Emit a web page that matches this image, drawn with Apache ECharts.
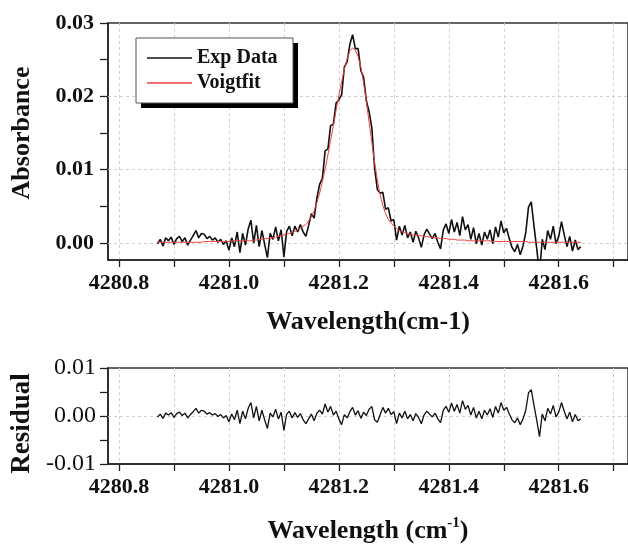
<!DOCTYPE html>
<html>
<head>
<meta charset="utf-8">
<script src="https://cdn.jsdelivr.net/npm/echarts@6/dist/echarts.min.js"></script>
<style>
  html, body { margin: 0; padding: 0; background: #fff; }
  #chart { width: 628px; height: 545px; }
</style>
</head>
<body>
<div id="chart"></div>
<script>
// wavenumber samples (cm-1)
const wavenumbers = [
  4280.870, 4280.875, 4280.880, 4280.885, 4280.890, 4280.895, 4280.900, 4280.905, 4280.910, 4280.915,
  4280.920, 4280.925, 4280.930, 4280.935, 4280.940, 4280.945, 4280.950, 4280.955, 4280.960, 4280.965,
  4280.970, 4280.975, 4280.980, 4280.985, 4280.990, 4280.995, 4281.000, 4281.005, 4281.010, 4281.015,
  4281.020, 4281.025, 4281.030, 4281.035, 4281.040, 4281.045, 4281.050, 4281.055, 4281.060, 4281.065,
  4281.070, 4281.075, 4281.080, 4281.085, 4281.090, 4281.095, 4281.100, 4281.105, 4281.110, 4281.115,
  4281.120, 4281.125, 4281.130, 4281.135, 4281.140, 4281.145, 4281.150, 4281.155, 4281.160, 4281.165,
  4281.170, 4281.175, 4281.180, 4281.185, 4281.190, 4281.195, 4281.200, 4281.205, 4281.210, 4281.215,
  4281.220, 4281.225, 4281.230, 4281.235, 4281.240, 4281.245, 4281.250, 4281.255, 4281.260, 4281.265,
  4281.270, 4281.275, 4281.280, 4281.285, 4281.290, 4281.295, 4281.300, 4281.305, 4281.310, 4281.315,
  4281.320, 4281.325, 4281.330, 4281.335, 4281.340, 4281.345, 4281.350, 4281.355, 4281.360, 4281.365,
  4281.370, 4281.375, 4281.380, 4281.385, 4281.390, 4281.395, 4281.400, 4281.405, 4281.410, 4281.415,
  4281.420, 4281.425, 4281.430, 4281.435, 4281.440, 4281.445, 4281.450, 4281.455, 4281.460, 4281.465,
  4281.470, 4281.475, 4281.480, 4281.485, 4281.490, 4281.495, 4281.500, 4281.505, 4281.510, 4281.515,
  4281.520, 4281.525, 4281.530, 4281.535, 4281.540, 4281.545, 4281.550, 4281.555, 4281.560, 4281.565,
  4281.570, 4281.575, 4281.580, 4281.585, 4281.590, 4281.595, 4281.600, 4281.605, 4281.610, 4281.615,
  4281.620, 4281.625, 4281.630, 4281.635, 4281.640
];

const expData = [
  -0.0001, 0.0005, -0.0004, 0.0007, 0.0003, 0.0008, -0.0002, 0.0006, 0.0009, 0.0002,
  0.0007, -0.0003, 0.0004, 0.0010, 0.0017, 0.0007, 0.0013, 0.0012, 0.0006, 0.0009,
  0.0004, 0.0007, 0.0001, 0.0005, -0.0002, 0.0003, -0.0010, 0.0007, -0.0005, 0.0015,
  -0.0013, 0.0013, -0.0003, 0.0019, 0.0031, 0.0000, 0.0024, -0.0005, 0.0017, -0.0002,
  -0.0020, 0.0013, 0.0005, 0.0022, 0.0003, 0.0018, -0.0019, 0.0016, 0.0023, 0.0010,
  0.0023, 0.0015, 0.0025, 0.0015, 0.0009, 0.0024, 0.0040, 0.0034, 0.0061, 0.0080,
  0.0088, 0.0126, 0.0128, 0.0160, 0.0162, 0.0191, 0.0195, 0.0202, 0.0240, 0.0247,
  0.0271, 0.0284, 0.0265, 0.0265, 0.0235, 0.0226, 0.0194, 0.0179, 0.0157, 0.0102,
  0.0073, 0.0068, 0.0069, 0.0046, 0.0048, 0.0030, 0.0032, 0.0004, 0.0023, 0.0011,
  0.0024, 0.0007, 0.0015, 0.0001, 0.0016, 0.0007, -0.0006, 0.0011, 0.0019, 0.0012,
  0.0006, 0.0013, 0.0001, -0.0008, 0.0018, 0.0026, 0.0013, 0.0032, 0.0015, 0.0028,
  0.0010, 0.0036, 0.0018, 0.0025, 0.0005, 0.0021, -0.0001, 0.0013, -0.0003, 0.0015,
  0.0005, 0.0018, -0.0001, 0.0022, 0.0008, 0.0030, 0.0014, 0.0020, 0.0006, -0.0006,
  -0.0012, -0.0002, -0.0016, -0.0004, 0.0014, 0.0049, 0.0056, 0.0023, -0.0008, -0.0042,
  0.0005, -0.0009, 0.0017, 0.0005, 0.0023, -0.0001, 0.0009, 0.0029, 0.0011, -0.0005,
  0.0009, -0.0011, 0.0004, -0.0009, -0.0005
];

const voigtFit = [
  0.0001, 0.0001, 0.0001, 0.0001, 0.0001, 0.0001, 0.0001, 0.0001, 0.0001, 0.0001,
  0.0001, 0.0001, 0.0001, 0.0001, 0.0001, 0.0001, 0.0001, 0.0002, 0.0002, 0.0002,
  0.0002, 0.0002, 0.0002, 0.0002, 0.0002, 0.0002, 0.0002, 0.0003, 0.0003, 0.0003,
  0.0003, 0.0003, 0.0003, 0.0003, 0.0003, 0.0004, 0.0004, 0.0005, 0.0005, 0.0006,
  0.0006, 0.0007, 0.0007, 0.0008, 0.0009, 0.0010, 0.0011, 0.0012, 0.0013, 0.0014,
  0.0016, 0.0018, 0.0020, 0.0023, 0.0025, 0.0030, 0.0036, 0.0044, 0.0055, 0.0068,
  0.0084, 0.0101, 0.0120, 0.0140, 0.0160, 0.0181, 0.0201, 0.0220, 0.0237, 0.0251,
  0.0262, 0.0266, 0.0263, 0.0254, 0.0240, 0.0218, 0.0193, 0.0165, 0.0137, 0.0110,
  0.0086, 0.0066, 0.0051, 0.0040, 0.0032, 0.0027, 0.0023, 0.0020, 0.0017, 0.0015,
  0.0014, 0.0013, 0.0012, 0.0011, 0.0011, 0.0010, 0.0010, 0.0009, 0.0009, 0.0008,
  0.0008, 0.0007, 0.0007, 0.0006, 0.0006, 0.0006, 0.0005, 0.0005, 0.0005, 0.0004,
  0.0004, 0.0004, 0.0004, 0.0003, 0.0003, 0.0003, 0.0003, 0.0003, 0.0003, 0.0003,
  0.0003, 0.0003, 0.0002, 0.0002, 0.0002, 0.0002, 0.0002, 0.0002, 0.0002, 0.0002,
  0.0002, 0.0002, 0.0002, 0.0002, 0.0002, 0.0001, 0.0001, 0.0001, 0.0001, 0.0001,
  0.0001, 0.0001, 0.0001, 0.0001, 0.0001, 0.0001, 0.0001, 0.0001, 0.0001, 0.0001,
  0.0001, 0.0001, 0.0001, 0.0001, 0.0001
];

const residual = [
  -0.0002, 0.0004, -0.0005, 0.0006, 0.0002, 0.0007, -0.0003, 0.0005, 0.0008, 0.0001,
  0.0006, -0.0004, 0.0003, 0.0009, 0.0016, 0.0006, 0.0012, 0.0010, 0.0004, 0.0007,
  0.0002, 0.0005, -0.0001, 0.0003, -0.0004, 0.0001, -0.0012, 0.0004, -0.0008, 0.0012,
  -0.0016, 0.0010, -0.0006, 0.0016, 0.0028, -0.0004, 0.0020, -0.0010, 0.0012, -0.0008,
  -0.0026, 0.0006, -0.0002, 0.0014, -0.0006, 0.0008, -0.0030, 0.0004, 0.0010, -0.0004,
  0.0007, -0.0003, 0.0005, -0.0008, -0.0016, -0.0006, 0.0004, -0.0010, 0.0006, 0.0012,
  0.0004, 0.0025, 0.0008, 0.0020, 0.0002, 0.0010, -0.0006, -0.0018, 0.0003, -0.0004,
  0.0009, 0.0018, 0.0002, 0.0011, -0.0005, 0.0008, 0.0001, 0.0014, 0.0020, -0.0008,
  -0.0013, 0.0002, 0.0018, 0.0006, 0.0016, 0.0003, 0.0009, -0.0016, 0.0006, -0.0004,
  0.0010, -0.0006, 0.0003, -0.0010, 0.0005, -0.0003, -0.0016, 0.0002, 0.0010, 0.0004,
  -0.0002, 0.0006, -0.0006, -0.0014, 0.0012, 0.0020, 0.0008, 0.0027, 0.0010, 0.0024,
  0.0006, 0.0032, 0.0014, 0.0022, 0.0002, 0.0018, -0.0004, 0.0010, -0.0006, 0.0012,
  0.0002, 0.0015, -0.0003, 0.0020, 0.0006, 0.0028, 0.0012, 0.0018, 0.0004, -0.0008,
  -0.0014, -0.0004, -0.0018, -0.0006, 0.0012, 0.0048, 0.0055, 0.0022, -0.0009, -0.0043,
  0.0004, -0.0010, 0.0016, 0.0004, 0.0022, -0.0002, 0.0008, 0.0028, 0.0010, -0.0006,
  0.0008, -0.0012, 0.0003, -0.0010, -0.0006
];

const xTicks = [4280.8, 4280.9, 4281.0, 4281.1, 4281.2, 4281.3, 4281.4, 4281.5, 4281.6, 4281.7];
const xLabels = [4280.8, 4281.0, 4281.2, 4281.4, 4281.6];
const absTicks = [0, 0.005, 0.01, 0.015, 0.02, 0.025, 0.03];
const absLabels = [0, 0.01, 0.02, 0.03];
const absGridLines = [0, 0.01, 0.02];
const resGridLines = [0];

const serif = '"Liberation Serif", "Times New Roman", serif';
const dashed = { color: '#cfcfcf', type: [3, 3], width: 1 };
const axisLine = { show: true, onZero: false, lineStyle: { color: '#222', width: 1.6 } };

function xAxisFor(gridIndex, name) {
  return {
    type: 'value', gridIndex,
    min: 4280.78, max: 4281.726,
    axisLine,
    axisTick: { show: true, inside: false, length: 7, customValues: xTicks, lineStyle: { color: '#222', width: 1.3 } },
    axisLabel: {
      customValues: xLabels, margin: 12,
      formatter: v => v.toFixed(1),
      fontFamily: serif, fontWeight: 'bold', fontSize: 22, color: '#111'
    },
    splitLine: { show: true, lineStyle: dashed },
    name, nameLocation: 'middle'
  };
}

function hGrid(values) {
  return {
    silent: true, symbol: 'none', z: 1,
    label: { show: false },
    lineStyle: dashed,
    data: values.map(v => ({ yAxis: v }))
  };
}

const chart = echarts.init(document.getElementById('chart'));
const topX = xAxisFor(0, 'Wavelength(cm-1)');
topX.nameGap = 49;
topX.nameTextStyle = { fontFamily: serif, fontWeight: 'bold', fontSize: 26, color: '#111' };
const botX = xAxisFor(1, '{a|Wavelength (cm}{s|-1}{a|)}');
botX.nameGap = 52;
botX.nameTextStyle = {
  rich: {
    a: { fontFamily: serif, fontWeight: 'bold', fontSize: 26, color: '#111', lineHeight: 30 },
    s: { fontFamily: serif, fontWeight: 'bold', fontSize: 15, color: '#111', verticalAlign: 'top', lineHeight: 30 }
  }
};

chart.setOption({
  animation: false,
  backgroundColor: '#fff',
  grid: [
    { left: 108, top: 23, width: 525, height: 237, show: true, borderColor: '#333', borderWidth: 1.5, backgroundColor: 'transparent' },
    { left: 108, top: 368, width: 525, height: 99, show: true, borderColor: '#333', borderWidth: 1.5, backgroundColor: 'transparent' }
  ],
  // legend frame with its drop shadow
  graphic: [
    { type: 'rect', z: 5, shape: { x: 141, y: 43, width: 157, height: 65 }, style: { fill: '#000' } },
    { type: 'rect', z: 6, shape: { x: 136, y: 38, width: 157, height: 65 }, style: { fill: '#fff', stroke: '#555', lineWidth: 1 } }
  ],
  legend: {
    orient: 'vertical',
    left: 136, top: 38, z: 10,
    padding: [10, 13, 10, 11],
    icon: 'rect',
    itemWidth: 45, itemHeight: 1.6, itemGap: 5,
    textStyle: { fontFamily: serif, fontWeight: 'bold', fontSize: 20, color: '#111', lineHeight: 20 },
    data: ['Exp Data', 'Voigtfit']
  },
  xAxis: [topX, botX],
  yAxis: [
    {
      type: 'value', gridIndex: 0,
      min: -0.00232, max: 0.03,
      axisLine,
      axisTick: { show: true, inside: false, length: 8, customValues: absTicks, lineStyle: { color: '#222', width: 1.3 } },
      axisLabel: {
        customValues: absLabels, margin: 14,
        formatter: v => v.toFixed(2),
        fontFamily: serif, fontWeight: 'bold', fontSize: 22, color: '#111'
      },
      splitLine: { show: false },
      name: 'Absorbance', nameLocation: 'middle', nameRotate: 90, nameGap: 73,
      nameTextStyle: { fontFamily: serif, fontWeight: 'bold', fontSize: 26, color: '#111', padding: [0, 0, 0, 17] }
    },
    {
      type: 'value', gridIndex: 1,
      min: -0.01, max: 0.01, interval: 0.01,
      axisLine,
      axisTick: { show: true, inside: false, length: 8, lineStyle: { color: '#222', width: 1.3 } },
      minorTick: { show: true, splitNumber: 2, length: 8, lineStyle: { color: '#222', width: 1.3 } },
      axisLabel: {
        margin: 12,
        formatter: v => v.toFixed(2),
        fontFamily: serif, fontSize: 24, color: '#111'
      },
      splitLine: { show: false },
      name: 'Residual', nameLocation: 'middle', nameRotate: 90, nameGap: 71,
      nameTextStyle: { fontFamily: serif, fontWeight: 'bold', fontSize: 27, color: '#111', padding: [0, 15, 0, 0] }
    }
  ],
  series: [
    {
      name: 'Exp Data', type: 'line', xAxisIndex: 0, yAxisIndex: 0,
      symbol: 'none', color: '#111',
      lineStyle: { color: '#111', width: 1.6 },
      data: wavenumbers.map((w, i) => [w, expData[i]]),
      markLine: hGrid(absGridLines)
    },
    {
      name: 'Voigtfit', type: 'line', xAxisIndex: 0, yAxisIndex: 0,
      symbol: 'none', color: '#f04040', z: 3,
      lineStyle: { color: '#f04040', width: 1 },
      data: wavenumbers.map((w, i) => [w, voigtFit[i]])
    },
    {
      name: 'Residual', type: 'line', xAxisIndex: 1, yAxisIndex: 1,
      symbol: 'none', color: '#111',
      lineStyle: { color: '#111', width: 1.3 },
      data: wavenumbers.map((w, i) => [w, residual[i]]),
      markLine: hGrid(resGridLines)
    }
  ]
});
</script>
</body>
</html>
